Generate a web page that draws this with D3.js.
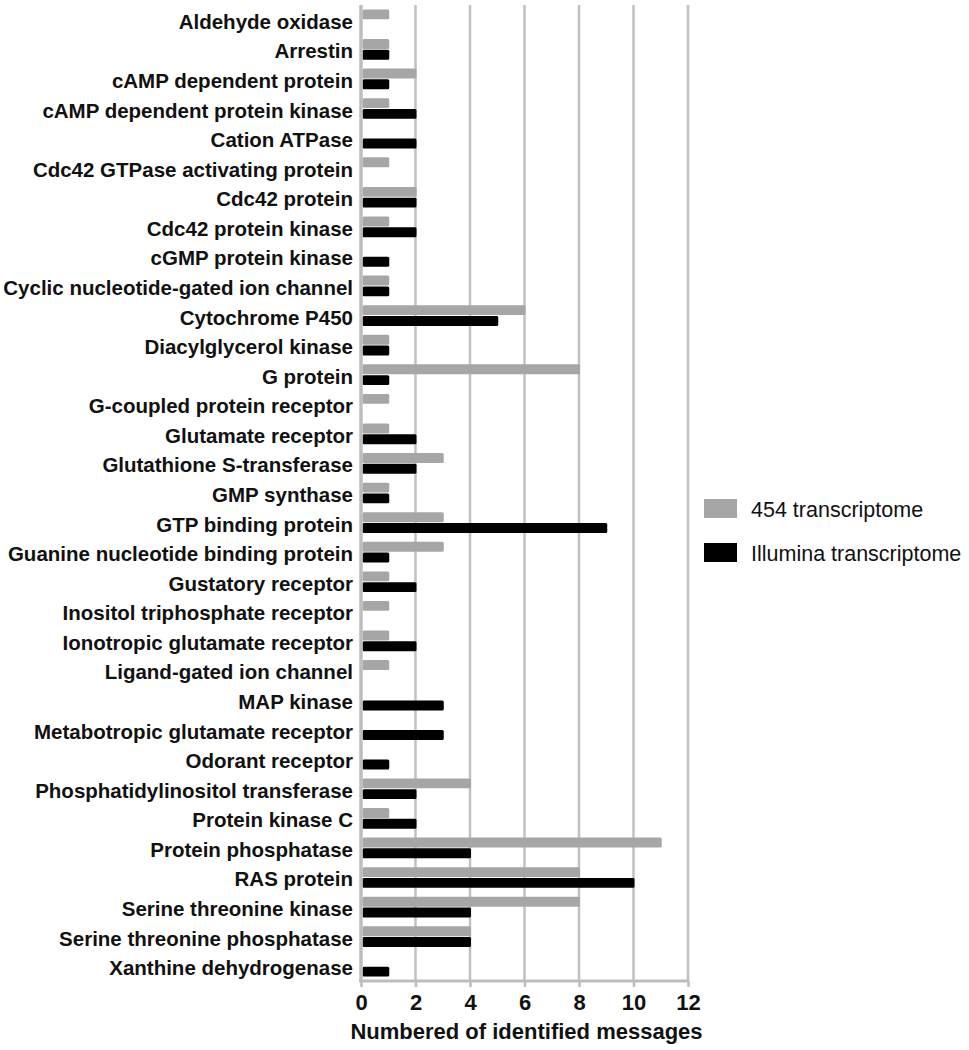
<!DOCTYPE html>
<html>
<head>
<meta charset="utf-8">
<script src="https://cdn.jsdelivr.net/npm/d3@7"></script>
<style>
  body { margin: 0; background: #fff; }
  text { font-family: "Liberation Sans", Arial, sans-serif; }
</style>
</head>
<body>
<script>
var categories = ["Aldehyde oxidase", "Arrestin", "cAMP dependent protein", "cAMP dependent protein kinase",
  "Cation ATPase", "Cdc42 GTPase activating protein", "Cdc42 protein", "Cdc42 protein kinase",
  "cGMP protein kinase", "Cyclic nucleotide-gated ion channel", "Cytochrome P450", "Diacylglycerol kinase",
  "G protein", "G-coupled protein receptor", "Glutamate receptor", "Glutathione S-transferase",
  "GMP synthase", "GTP binding protein", "Guanine nucleotide binding protein", "Gustatory receptor",
  "Inositol triphosphate receptor", "Ionotropic glutamate receptor", "Ligand-gated ion channel",
  "MAP kinase", "Metabotropic glutamate receptor", "Odorant receptor", "Phosphatidylinositol transferase",
  "Protein kinase C", "Protein phosphatase", "RAS protein", "Serine threonine kinase",
  "Serine threonine phosphatase", "Xanthine dehydrogenase"];

var values454 = [1, 1, 2, 1, 0, 1, 2, 1, 0, 1, 6, 1, 8, 1, 1, 3, 1, 3, 3, 1, 1, 1, 1, 0, 0, 0, 4, 1, 11, 8, 8, 4, 0];
var valuesIllumina = [0, 1, 1, 2, 2, 0, 2, 2, 1, 1, 5, 1, 1, 0, 2, 2, 1, 9, 1, 2, 0, 2, 0, 3, 3, 1, 2, 2, 4, 10, 4, 4, 1];

var seriesNames = ["454 transcriptome", "Illumina transcriptome"];
var seriesColors = ["#a6a6a6", "#000000"];
var xTicks = [0, 2, 4, 6, 8, 10, 12];

var width = 969, height = 1050;
var margin = {left: 361, top: 5, right: 281, bottom: 69};
var innerW = width - margin.left - margin.right;
var innerH = height - margin.top - margin.bottom;

var svg = d3.select("body").append("svg").attr("width", width).attr("height", height);
var g = svg.append("g").attr("transform", "translate(" + margin.left + "," + margin.top + ")");

var x = d3.scaleLinear().domain([0, 12]).range([0, innerW]);
var y0 = d3.scaleBand().domain(categories).range([0, innerH]).paddingInner(0.3).paddingOuter(0.15);
var y1 = d3.scaleBand().domain(seriesNames).range([0, y0.bandwidth()]).paddingInner(0.08);

// gridlines
g.selectAll(".grid").data(xTicks.slice(1)).enter().append("line")
  .attr("x1", function(d) { return x(d); }).attr("x2", function(d) { return x(d); })
  .attr("y1", 0).attr("y2", innerH)
  .attr("stroke", "#c0c0c0").attr("stroke-width", 2.5);

var rows = categories.map(function(c, i) {
  return {cat: c, vals: [values454[i], valuesIllumina[i]]};
});

var rowG = g.selectAll(".row").data(rows).enter().append("g")
  .attr("transform", function(d) { return "translate(0," + y0(d.cat) + ")"; });

rowG.selectAll("rect").data(function(d) {
    return d.vals.map(function(v, k) { return {name: seriesNames[k], v: v, k: k}; });
  }).enter().filter(function(d) { return d.v > 0; }).append("rect")
  .attr("x", x(0) + 1.5)
  .attr("y", function(d) { return y1(d.name); })
  .attr("width", function(d) { return x(d.v) - x(0) - 0.5; })
  .attr("height", y1.bandwidth())
  .attr("rx", 1.5)
  .attr("fill", function(d) { return seriesColors[d.k]; });

// category labels
rowG.append("text")
  .attr("x", -8)
  .attr("y", y0.bandwidth() / 2)
  .attr("dy", "0.44em")
  .attr("text-anchor", "end")
  .attr("font-size", 20.5)
  .attr("font-weight", "bold")
  .attr("fill", "#111")
  .text(function(d) { return d.cat; });

// y axis line
g.append("line").attr("x1", 0).attr("x2", 0).attr("y1", 0).attr("y2", innerH + 1)
  .attr("stroke", "#bdbdbd").attr("stroke-width", 3.5);
// x axis line
g.append("line").attr("x1", -2).attr("x2", innerW + 1).attr("y1", innerH).attr("y2", innerH)
  .attr("stroke", "#bdbdbd").attr("stroke-width", 3);

// x axis ticks and labels
var xAxis = d3.axisBottom(x).tickValues(xTicks).tickSize(6).tickPadding(7);
var ax = g.append("g").attr("transform", "translate(0," + innerH + ")").call(xAxis);
ax.select(".domain").remove();
ax.selectAll(".tick line").attr("stroke", "#bdbdbd").attr("stroke-width", 2.5);
ax.selectAll(".tick text")
  .attr("font-size", 22).attr("font-weight", "bold").attr("fill", "#111")
  .style("font-family", "'Liberation Sans', Arial, sans-serif");

g.append("text")
  .attr("x", innerW / 2 + 2)
  .attr("y", innerH + 58)
  .attr("text-anchor", "middle")
  .attr("font-size", 22)
  .attr("font-weight", "bold")
  .attr("fill", "#111")
  .text("Numbered of identified messages");

// legend
var legend = svg.append("g").attr("transform", "translate(704,499)");
var li = legend.selectAll("g").data(seriesNames).enter().append("g")
  .attr("transform", function(d, i) { return "translate(0," + (i * 44) + ")"; });
li.append("rect").attr("width", 33).attr("height", 19)
  .attr("fill", function(d, i) { return seriesColors[i]; });
li.append("text").attr("x", 47).attr("y", 10).attr("dy", "0.35em")
  .attr("font-size", 21.5).attr("fill", "#111")
  .text(function(d) { return d; });
</script>
</body>
</html>
